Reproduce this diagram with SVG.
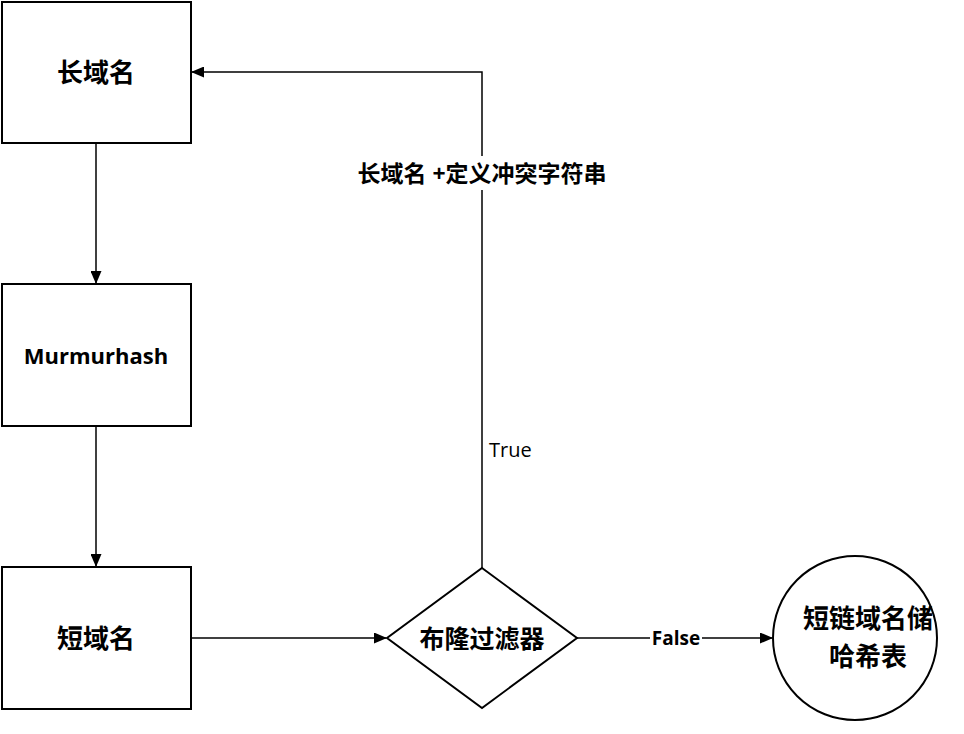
<svg xmlns="http://www.w3.org/2000/svg" width="964" height="734" viewBox="0 0 964 734">
<style>
.shape{fill:#fff;stroke:#000;stroke-width:2}
.t{font-family:"Open Sans","Noto Sans CJK SC",sans-serif;font-weight:bold;fill:#000;text-anchor:middle;dominant-baseline:central}
.c{fill:none;stroke:#000;stroke-width:1.5}
</style>
<defs>
<marker id="ah" markerWidth="13" markerHeight="11" refX="12" refY="5.5" orient="auto" markerUnits="userSpaceOnUse">
<path d="M0,0 L13,5.5 L0,11 Z" fill="#000"/>
</marker>
</defs>
<rect width="964" height="734" fill="#fff"/>
<g id="connectors">
<line class="c" x1="96" y1="143" x2="96" y2="283" marker-end="url(#ah)"/>
<line class="c" x1="96" y1="426" x2="96" y2="566" marker-end="url(#ah)"/>
<line class="c" x1="191" y1="638" x2="386" y2="638" marker-end="url(#ah)"/>
<polyline class="c" points="482,568 482,72 192,72" marker-end="url(#ah)"/>
<line class="c" x1="577" y1="638" x2="772" y2="638" marker-end="url(#ah)"/>
<rect x="354" y="156" width="256" height="34" fill="#fff"/>
<text class="t" x="482" y="173" font-size="23">长域名 +定义冲突字符串</text>
<text x="489" y="449" font-family="Open Sans, sans-serif" font-size="20" fill="#000" dominant-baseline="central">True</text>
<rect x="650" y="626" width="52" height="24" fill="#fff"/>
<text class="t" x="676" y="638" font-size="19">False</text>
</g>
<g id="node-long">
<rect class="shape" x="2" y="2" width="189" height="141"/>
<text class="t" x="96" y="72" font-size="26">长域名</text>
</g>
<g id="node-hash">
<rect class="shape" x="2" y="284" width="189" height="142"/>
<text class="t" x="96" y="355" font-size="22">Murmurhash</text>
</g>
<g id="node-short">
<rect class="shape" x="2" y="567" width="189" height="142"/>
<text class="t" x="96" y="638" font-size="26">短域名</text>
</g>
<g id="node-bloom">
<polygon class="shape" points="482,568 577,638 482,708 387,638"/>
<text class="t" x="482" y="638" font-size="25">布隆过滤器</text>
</g>
<g id="node-table">
<circle class="shape" cx="855" cy="638" r="82"/>
<text class="t" x="868" y="618" font-size="26">短链域名储</text>
<text class="t" x="868" y="656" font-size="26">哈希表</text>
</g>
</svg>
